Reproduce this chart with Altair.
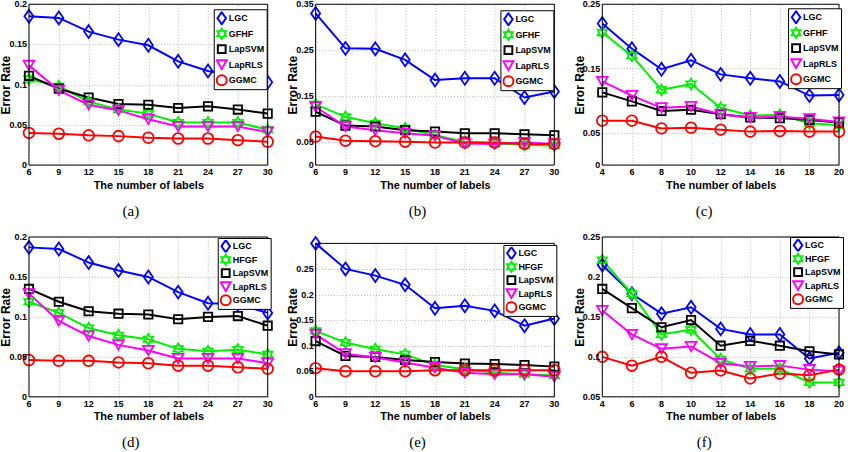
import altair as alt
import pandas as pd

# ---------------- data ----------------
x_30 = [6, 9, 12, 15, 18, 21, 24, 27, 30]
x_20 = [4, 6, 8, 10, 12, 14, 16, 18, 20]

names_top = ["LGC", "GFHF", "LapSVM", "LapRLS", "GGMC"]
names_bot = ["LGC", "HFGF", "LapSVM", "LapRLS", "GGMC"]
captions = ["(a)", "(b)", "(c)", "(d)", "(e)", "(f)"]

a_LGC = [0.185, 0.183, 0.166, 0.156, 0.149, 0.129, 0.117, 0.110, 0.103]
a_GFHF = [0.107, 0.098, 0.079, 0.069, 0.064, 0.053, 0.053, 0.053, 0.044]
a_LapSVM = [0.111, 0.095, 0.084, 0.076, 0.075, 0.071, 0.073, 0.069, 0.064]
a_LapRLS = [0.124, 0.093, 0.075, 0.068, 0.057, 0.048, 0.048, 0.048, 0.041]
a_GGMC = [0.040, 0.039, 0.037, 0.036, 0.034, 0.033, 0.033, 0.031, 0.029]

b_LGC = [0.330, 0.254, 0.253, 0.229, 0.185, 0.189, 0.189, 0.147, 0.160]
b_GFHF = [0.132, 0.105, 0.091, 0.080, 0.065, 0.051, 0.047, 0.044, 0.042]
b_LapSVM = [0.116, 0.086, 0.084, 0.076, 0.073, 0.069, 0.069, 0.067, 0.065]
b_LapRLS = [0.127, 0.084, 0.076, 0.069, 0.064, 0.047, 0.046, 0.049, 0.046]
b_GGMC = [0.062, 0.053, 0.052, 0.051, 0.049, 0.049, 0.049, 0.046, 0.046]

c_LGC = [0.220, 0.181, 0.149, 0.163, 0.141, 0.135, 0.130, 0.108, 0.109]
c_GFHF = [0.206, 0.170, 0.117, 0.126, 0.089, 0.077, 0.078, 0.065, 0.062]
c_LapSVM = [0.113, 0.099, 0.084, 0.086, 0.079, 0.074, 0.073, 0.070, 0.066]
c_LapRLS = [0.130, 0.108, 0.089, 0.091, 0.079, 0.074, 0.075, 0.072, 0.067]
c_GGMC = [0.069, 0.069, 0.057, 0.058, 0.055, 0.052, 0.053, 0.052, 0.052]

d_LGC = [0.187, 0.185, 0.168, 0.158, 0.150, 0.131, 0.117, 0.116, 0.105]
d_HFGF = [0.119, 0.105, 0.086, 0.077, 0.072, 0.060, 0.057, 0.059, 0.053]
d_LapSVM = [0.135, 0.119, 0.107, 0.104, 0.103, 0.097, 0.100, 0.101, 0.089]
d_LapRLS = [0.129, 0.095, 0.076, 0.065, 0.058, 0.048, 0.048, 0.048, 0.042]
d_GGMC = [0.046, 0.045, 0.045, 0.043, 0.042, 0.039, 0.039, 0.037, 0.035]

e_LGC = [0.300, 0.250, 0.237, 0.219, 0.173, 0.178, 0.168, 0.139, 0.153]
e_HFGF = [0.129, 0.106, 0.093, 0.083, 0.062, 0.054, 0.047, 0.044, 0.042]
e_LapSVM = [0.109, 0.080, 0.078, 0.072, 0.068, 0.065, 0.064, 0.062, 0.059]
e_LapRLS = [0.122, 0.084, 0.077, 0.067, 0.057, 0.047, 0.044, 0.044, 0.039]
e_GGMC = [0.056, 0.050, 0.050, 0.050, 0.052, 0.052, 0.052, 0.052, 0.052]

f_LGC = [0.215, 0.179, 0.154, 0.162, 0.135, 0.128, 0.128, 0.098, 0.105]
f_HFGF = [0.221, 0.179, 0.128, 0.134, 0.097, 0.085, 0.085, 0.068, 0.068]
f_LapSVM = [0.185, 0.161, 0.137, 0.146, 0.114, 0.120, 0.114, 0.107, 0.103]
f_LapRLS = [0.158, 0.128, 0.110, 0.113, 0.092, 0.088, 0.089, 0.084, 0.082]
f_GGMC = [0.100, 0.089, 0.100, 0.080, 0.083, 0.073, 0.079, 0.077, 0.084]

yt_a = [0, 0.05, 0.1, 0.15, 0.2]
yt_b = [0, 0.05, 0.15, 0.25, 0.35]
yt_c = [0, 0.05, 0.15, 0.25]
yt_d = [0, 0.05, 0.1, 0.15, 0.2]
yt_e = [0, 0.05, 0.1, 0.15, 0.2, 0.25]
yt_f = [0.05, 0.1, 0.15, 0.2, 0.25]

# ---------------- style ----------------
SANS = "Liberation Sans"
COLORS = ["#0000ff", "#00ee00", "#000000", "#ff00ff", "#ff0000"]
DIAMOND = "M0,-1.2L0.85,0L0,1.2L-0.85,0Z"
HEXAGRAM = ("M0,-1L0.289,-0.5L0.866,-0.5L0.577,0L0.866,0.5L0.289,0.5L0,1"
            "L-0.289,0.5L-0.866,0.5L-0.577,0L-0.866,-0.5L-0.289,-0.5Z")
SQUARE = "M-0.78,-0.78H0.78V0.78H-0.78Z"
SHAPES = [DIAMOND, HEXAGRAM, SQUARE, "triangle-down", "circle"]


def panel(xs, series, names, xdom, xticks, ydom, ytop, yticks, caption,
          w, h, lx, ly, clip, rp, cap_y):
    rows = [{"n": xv, "err": yv, "method": nm}
            for nm, vals in zip(names, series) for xv, yv in zip(xs, vals)]
    df = pd.DataFrame(rows)
    leg = alt.Legend(orient="none", legendX=lx, legendY=ly, title=None,
                     fillColor="white", strokeColor="black", padding=2,
                     labelFont=SANS, labelFontSize=9, labelFontWeight="bold",
                     labelColor="black", labelOffset=1, symbolStrokeWidth=2,
                     symbolSize=100, rowPadding=rp, clipHeight=clip,
                     labelLimit=200)
    xax = alt.Axis(values=xticks, title="The number of labels", titleFont=SANS,
                   titleFontSize=11, titleFontWeight="bold", titleColor="black",
                   titleY=20, titleBaseline="middle", labels=False,
                   ticks=False, tickSize=0, domain=False,
                   grid=True, gridColor="#b8b8b8", gridDash=[1, 2])
    yax = alt.Axis(values=yticks, title="Error Rate",
                   titleFont=SANS, titleFontSize=12,
                   titleFontWeight="bold", titleColor="black", titleX=-23,
                   titleY=h / 2, titleBaseline="middle", labels=False,
                   ticks=False, tickSize=0, domain=False,
                   grid=True, gridColor="#b8b8b8", gridDash=[1, 2])
    xs_ = alt.Scale(domain=xdom, nice=False, zero=False)
    ys_ = alt.Scale(domain=ydom, nice=False, zero=False)
    cscale = alt.Scale(domain=names, range=COLORS)
    sscale = alt.Scale(domain=names, range=SHAPES)

    one = pd.DataFrame({"k": [0]})
    mask = alt.Chart(one).mark_rect(color="white").encode(
        x=alt.X(datum=xdom[0], scale=xs_, axis=xax), x2=alt.X2(datum=xdom[1]),
        y=alt.Y(datum=ytop, scale=ys_, axis=yax), y2=alt.Y2(datum=ydom[1]))
    base = alt.Chart(df).encode(
        x=alt.X("n:Q", scale=xs_, axis=xax),
        y=alt.Y("err:Q", scale=ys_, axis=yax),
        color=alt.Color("method:N", scale=cscale, legend=leg))
    lines = base.mark_line(strokeWidth=2)
    points = base.mark_point(filled=False, strokeWidth=1.8, size=115, opacity=1).encode(
        shape=alt.Shape("method:N", scale=sscale, legend=leg))
    frame = alt.Chart(one).mark_rect(fill="white", fillOpacity=0, stroke="black",
                                     strokeWidth=1).encode(
        x=alt.X(datum=xdom[0], scale=xs_, axis=xax), x2=alt.X2(datum=xdom[1]),
        y=alt.Y(datum=ydom[0], scale=ys_, axis=yax), y2=alt.Y2(datum=ytop))
    xlab = alt.Chart(pd.DataFrame({"v": xticks})).mark_text(
        font=SANS, fontSize=9, fontWeight="bold", color="black",
        baseline="top", align="center").encode(
        x=alt.X("v:Q", scale=xs_, axis=xax), y=alt.value(h + 3),
        text=alt.Text("v:Q", format="d"))
    ylab = alt.Chart(pd.DataFrame({"v": yticks})).mark_text(
        font=SANS, fontSize=9, fontWeight="bold", color="black",
        baseline="middle", align="right").encode(
        y=alt.Y("v:Q", scale=ys_, axis=yax), x=alt.value(-2),
        text=alt.Text("v:Q", format=".2~f"))
    cap = alt.Chart(pd.DataFrame({"cap": [caption]})).mark_text(
        font="Liberation Serif", fontSize=15, color="black",
        baseline="middle", align="center").encode(
        text="cap:N", x=alt.value(102), y=alt.value(cap_y))
    return alt.layer(mask, lines, points, frame, xlab, ylab, cap).properties(
        width=w, height=h)


pa = panel(x_30, [a_LGC, a_GFHF, a_LapSVM, a_LapRLS, a_GGMC], names_top,
           [6, 30], x_30, [0, 0.2], 0.2, yt_a, captions[0], 239, 161, 185, 5, 14, 1.5, 207)
pb = panel(x_30, [b_LGC, b_GFHF, b_LapSVM, b_LapRLS, b_GGMC], names_top,
           [6, 30], x_30, [0, 0.35], 0.35, yt_b, captions[1], 239, 161, 185, 6, 14, 1.5, 207)
pc = panel(x_20, [c_LGC, c_GFHF, c_LapSVM, c_LapRLS, c_GGMC], names_top,
           [4, 20], x_20, [0, 0.25], 0.25, yt_c, captions[2], 237, 161, 186, 4, 14, 1.5, 207)
pd_ = panel(x_30, [d_LGC, d_HFGF, d_LapSVM, d_LapRLS, d_GGMC], names_bot,
            [6, 30], x_30, [0, 0.2], 0.2, yt_d, captions[3], 239, 160, 189, 1, 12.5, 0.5, 205)
pe = panel(x_30, [e_LGC, e_HFGF, e_LapSVM, e_LapRLS, e_GGMC], names_bot,
           [6, 30], x_30, [0, 0.3125], 0.3, yt_e, captions[4], 239, 160, 188, 8, 12.5, 0.5, 205)
pf = panel(x_20, [f_LGC, f_HFGF, f_LapSVM, f_LapRLS, f_GGMC], names_bot,
           [4, 20], x_20, [0.05, 0.25], 0.25, yt_f, captions[5], 237, 160, 188, 0, 12.5, 0.5, 205)

chart = alt.concat(pa, pb, pc, pd_, pe, pf, columns=3,
                   spacing={"row": 72, "column": 48}, bounds="flush").resolve_scale(
    color="independent", shape="independent").properties(
    padding={"left": 0, "top": 0, "right": 0, "bottom": 0},
    background="white").configure_view(strokeWidth=0)

chart.save("out.html", embed_options={"renderer": "svg", "actions": False})
